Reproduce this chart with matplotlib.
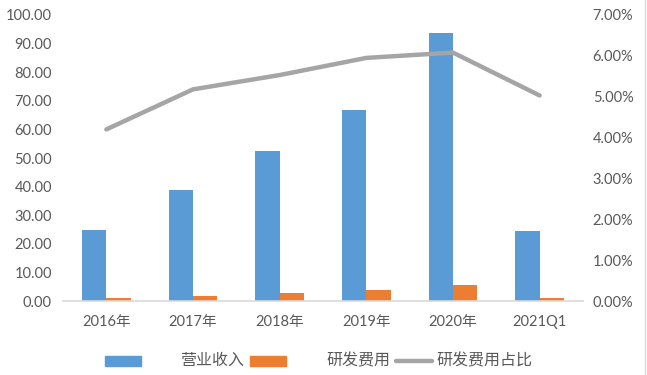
import matplotlib
matplotlib.use("Agg")
import matplotlib.pyplot as plt
import numpy as np
from matplotlib.lines import Line2D
from matplotlib.patches import Rectangle
from matplotlib.ticker import FuncFormatter, MultipleLocator

plt.rcParams["font.family"] = ["Lato", "Noto Sans CJK SC", "DejaVu Sans"]

categories = ["2016年", "2017年", "2018年", "2019年", "2020年", "2021Q1"]
revenue = [24.9, 38.9, 52.4, 66.8, 93.8, 24.4]
rd_cost = [0.95, 1.85, 2.8, 4.0, 5.5, 1.15]
rd_ratio = [0.0420, 0.0518, 0.0553, 0.0595, 0.0608, 0.0503]

BLUE = "#5B9BD5"
ORANGE = "#ED7D31"
GRAY = "#A5A5A5"
TXT = "#595959"

fig = plt.figure(figsize=(6.47, 3.75), dpi=100)
ax = fig.add_axes([0.0974, 0.1973, 0.8036, 0.7627])
ax2 = ax.twinx()

x = np.arange(len(categories))
w = 0.28
ax.bar(x - w / 2, revenue, w, color=BLUE, zorder=2)
ax.bar(x + w / 2, rd_cost, w, color=ORANGE, zorder=2)
ax2.plot(x, rd_ratio, color=GRAY, lw=3.2, solid_capstyle="round", zorder=3)

ax.set_xlim(-0.5, len(categories) - 0.5)
ax.set_ylim(0, 100)
ax2.set_ylim(0, 0.07)
ax.yaxis.set_major_locator(MultipleLocator(10))
ax2.yaxis.set_major_locator(MultipleLocator(0.01))
ax.yaxis.set_major_formatter(FuncFormatter(lambda v, p: f"{v:.2f}"))
ax2.yaxis.set_major_formatter(FuncFormatter(lambda v, p: f"{v * 100:.2f}%"))
ax.set_xticks(x)
ax.set_xticklabels(categories)

for a in (ax, ax2):
    for s in a.spines.values():
        s.set_visible(False)
    a.tick_params(length=0, labelsize=10.5, labelcolor=TXT)
ax.spines["bottom"].set_visible(True)
ax.spines["bottom"].set_color("#D9D9D9")
ax.spines["bottom"].set_linewidth(1.2)
ax.tick_params(axis="y", pad=8)
ax2.tick_params(axis="y", pad=7)
ax.tick_params(axis="x", pad=10)
ax2.set_zorder(ax.get_zorder() + 1)
ax2.patch.set_visible(False)

# legend drawn by hand, Excel-style spacing
ly = 1 - 361 / 375
lh = 10 / 375
fig.patches.append(Rectangle((105 / 647, ly - lh / 2), 36 / 647, lh,
                             transform=fig.transFigure, color=BLUE))
fig.text(180 / 647, ly, "营业收入", fontsize=11.5, color=TXT, va="center")
fig.patches.append(Rectangle((250 / 647, ly - lh / 2), 36 / 647, lh,
                             transform=fig.transFigure, color=ORANGE))
fig.text(326 / 647, ly, "研发费用", fontsize=11.5, color=TXT, va="center")
fig.lines.append(Line2D([396 / 647, 432 / 647], [ly, ly], transform=fig.transFigure,
                        color=GRAY, lw=3.2, solid_capstyle="round"))
fig.text(436 / 647, ly, "研发费用占比", fontsize=11.5, color=TXT, va="center")
fig.lines.append(Line2D([645 / 647, 645 / 647], [0, 1], transform=fig.transFigure,
                        color="#D9D9D9", lw=1))

fig.savefig("out.png", dpi=100)
